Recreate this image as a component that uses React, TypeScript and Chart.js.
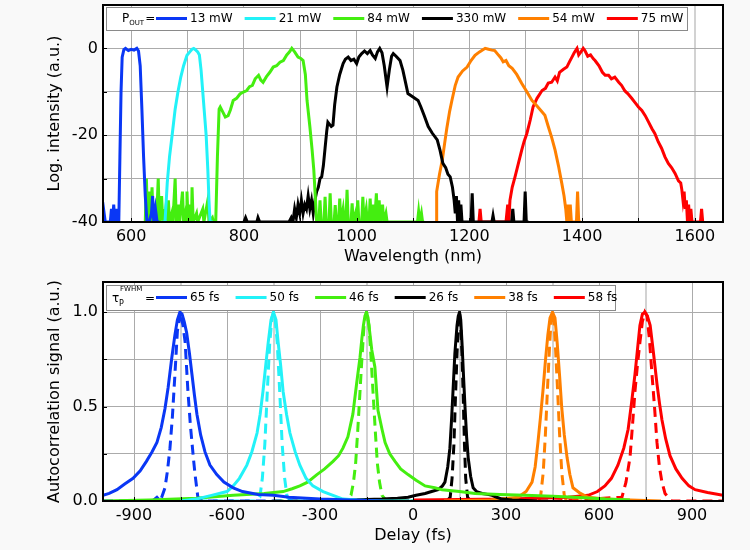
import React, { useEffect, useRef } from 'react';
import { Chart, registerables } from 'chart.js';
Chart.register(...registerables);

const FONT = "'DejaVu Sans', 'Verdana', sans-serif";

// ---------- Top panel: spectra (wavelength nm, log intensity dB) ----------
const specLabels = ['13 mW', '21 mW', '84 mW', '330 mW', '54 mW', '75 mW'];
const specColors = ['#0a37f5', '#22f2f8', '#44ee10', '#000000', '#ff8000', '#ff0000'];

const wl13 = [550, 552, 554, 556, 560, 563, 565, 567, 569, 571, 573, 575, 578, 580, 582, 584, 587, 590, 595, 600, 605, 610, 613, 616, 619, 622, 625, 628, 632, 636, 638, 640, 643, 646, 650];
const db13 = [-40, -38, -40, -40, -40, -40, -37, -40, -36, -40, -37, -40, -40, -25, -10, -2, -0.3, 0, -0.5, -0.2, -0.4, 0, -0.6, -4, -14, -25, -34, -40, -40, -38, -34, -40, -37, -40, -40];

const wl21 = [655, 660, 664, 668, 673, 678, 683, 688, 693, 699, 704, 708, 711, 714, 718, 721, 724, 727, 730, 733, 736, 738, 740, 745];
const db21 = [-40, -40, -31, -25, -19.6, -14, -10, -6.6, -4, -1.6, -0.8, -0.2, 0, -0.3, -0.8, -1.5, -5, -10, -15, -20, -28, -35, -40, -40];

const wl84 = [625, 627, 629, 632, 634, 637, 639, 643, 645, 648, 650, 654, 656, 657, 659, 663, 665, 666, 668, 672, 674, 678, 680, 684, 686, 691, 693, 696, 698, 699, 701, 705, 707, 708, 710, 716, 718, 727, 729, 736, 738, 744, 746, 750, 753, 756, 758, 762, 767, 772, 776, 781, 787, 793, 800, 805, 810, 815, 820, 826, 830, 834, 840, 846, 852, 858, 864, 870, 876, 881, 885, 890, 896, 901, 905, 909, 912, 917, 921, 924, 926, 929, 933, 935, 937, 942, 944, 946, 951, 953, 955, 960, 962, 964, 968, 970, 972, 976, 978, 981, 983, 985, 990, 992, 994, 998, 1000, 1002, 1004, 1009, 1011, 1013, 1017, 1019, 1022, 1024, 1026, 1030, 1032, 1035, 1037, 1040, 1042, 1046, 1048, 1052, 1054, 1060, 1108, 1110, 1112, 1115, 1117, 1120];
const db84 = [-40, -30, -40, -33, -40, -32, -40, -37, -40, -30, -40, -34, -40, -37, -40, -35, -40, -35, -40, -38, -40, -30, -40, -36, -40, -33, -40, -38, -40, -33, -40, -36, -40, -32, -40, -38, -40, -37, -40, -35, -40, -39, -40, -40, -25, -14, -13.5, -14.5, -15.8, -15.5, -14.2, -12, -11.5, -10.5, -10, -9.7, -8.8, -8.5, -7, -6.2, -7.3, -7.8, -6.5, -5.5, -4.3, -4, -3.2, -2.8, -1.5, -0.8, 0, -0.8, -2, -2.3, -2.8, -6, -12, -18, -23.4, -28, -32.6, -40, -40, -35, -40, -40, -34.2, -40, -40, -33.4, -40, -40, -36.1, -40, -40, -34.6, -40, -37, -40, -40, -32.6, -40, -40, -35.7, -40, -38, -40, -35, -40, -40, -34.2, -40, -37, -40, -40, -34.6, -40, -36, -40, -33.4, -40, -35, -40, -36, -40, -38, -40, -40, -40, -37.6, -40, -38, -40, -40];

const wl330 = [800, 803, 806, 823, 825, 828, 880, 884, 887, 890, 893, 896, 899, 902, 905, 908, 911, 914, 917, 920, 923, 926, 929, 932, 935, 938, 941, 944, 947, 949, 952, 955, 958, 961, 965, 970, 976, 980, 985, 990, 995, 1000, 1004, 1009, 1014, 1019, 1024, 1028, 1033, 1037, 1041, 1045, 1049, 1054, 1058, 1062, 1065, 1070, 1077, 1082, 1087, 1091, 1100, 1109, 1114, 1120, 1127, 1134, 1143, 1148, 1153, 1158, 1162, 1166, 1170, 1173, 1175, 1177, 1179, 1181, 1183, 1185, 1187, 1189, 1203, 1205, 1207, 1240, 1242, 1244, 1275, 1277, 1279, 1297, 1299, 1301, 1305];
const db330 = [-40, -39, -40, -40, -39, -40, -40, -39, -40, -37, -39, -36, -38, -35, -38, -36, -37, -34, -37, -35, -38, -35, -33, -32, -30, -29.6, -27, -23, -19, -17, -17.5, -18, -17.7, -13, -8.9, -6, -3.5, -2.5, -2, -2.8, -2.5, -3.5, -2, -1.2, -0.6, -1.2, -0.5, -1.5, -2.3, -0.8, 0, -1, -4, -8.9, -5, -1.8, -1.2, -1.8, -2.8, -5, -8, -10.4, -11.2, -12, -13.5, -15.5, -18, -19.5, -21.1, -23.5, -26.5, -27.5, -29, -29.6, -32, -35, -38, -34, -40, -35, -40, -36, -40, -40, -40, -33.4, -40, -40, -38.5, -40, -40, -37, -40, -40, -33, -40, -40];

const wl54 = [1141, 1142, 1147, 1152, 1156, 1160, 1165, 1169, 1175, 1180, 1188, 1196, 1203, 1210, 1218, 1224, 1228, 1234, 1240, 1245, 1252, 1256, 1260, 1265, 1270, 1276, 1284, 1293, 1302, 1311, 1320, 1328, 1334, 1340, 1346, 1352, 1358, 1364, 1368, 1371, 1373, 1375, 1377, 1379, 1381, 1390, 1392, 1394, 1398];
const db54 = [-40, -33, -29, -25.7, -22, -18.4, -14.5, -12, -8.5, -6.6, -5.2, -4.3, -2.8, -1.6, -0.8, -0.3, 0, -0.2, -0.4, -0.5, -1.6, -2.2, -3.1, -2.8, -4, -4.6, -6, -8.1, -10, -12, -13.3, -14.5, -15.4, -18, -20.5, -23.4, -27, -31.1, -34, -37, -40, -36, -40, -36, -40, -40, -33, -40, -40];

const wl75 = [1217, 1219, 1221, 1265, 1268, 1270, 1272, 1276, 1281, 1287, 1293, 1297, 1302, 1308, 1313, 1320, 1329, 1335, 1340, 1346, 1352, 1356, 1360, 1367, 1373, 1378, 1382, 1386, 1391, 1394, 1398, 1402, 1405, 1410, 1415, 1420, 1423, 1430, 1436, 1441, 1447, 1452, 1458, 1465, 1470, 1476, 1481, 1488, 1494, 1500, 1506, 1512, 1518, 1524, 1529, 1535, 1541, 1547, 1553, 1559, 1565, 1571, 1575, 1577, 1579, 1581, 1583, 1585, 1587, 1589, 1591, 1593, 1595, 1600, 1610, 1612, 1614];
const db75 = [-40, -37, -40, -40, -36, -40, -35, -32, -29.6, -26.5, -23.4, -21.5, -19.6, -16.5, -13.5, -11.5, -9.7, -9.2, -8, -7.8, -6.6, -7.5, -5.5, -4.8, -4.3, -3, -2, -1, 0, -1.5, -0.8, 0, -0.5, -1.8, -1.5, -2.4, -2.8, -4, -5.5, -6.2, -6.2, -7, -6.6, -7.8, -8.5, -9.8, -10.4, -11.5, -12.5, -13.5, -14.3, -15.5, -17, -18.5, -19.6, -21.5, -23, -25, -26.5, -27.5, -28.8, -30.5, -31, -32.6, -35, -33, -37, -35, -40, -36, -40, -37, -40, -40, -40, -37, -40];

const specX = [wl13, wl21, wl84, wl330, wl54, wl75];
const specY = [db13, db21, db84, db330, db54, db75];

const wlTicks = [600, 700, 800, 900, 1000, 1100, 1200, 1300, 1400, 1500, 1600];
const dbTicks = [-40, -30, -20, -10, 0];

// ---------- Bottom panel: autocorrelation (delay fs, signal a.u.) ----------
const acLabels = ['65 fs', '50 fs', '46 fs', '26 fs', '38 fs', '58 fs'];

const t65 = [-1000, -980, -955, -930, -903, -880, -860, -842, -826, -812, -800, -790, -778, -768, -760, -752, -745, -738, -730, -721, -713, -705, -697, -685, -671, -655, -633, -610, -580, -550, -500, -450, -400, -300, -200, -100];
const s65 = [0.03, 0.04, 0.06, 0.09, 0.12, 0.16, 0.21, 0.26, 0.31, 0.39, 0.49, 0.6, 0.76, 0.88, 0.96, 1.0, 0.99, 0.95, 0.89, 0.78, 0.67, 0.56, 0.46, 0.35, 0.26, 0.19, 0.14, 0.1, 0.07, 0.05, 0.035, 0.03, 0.02, 0.01, 0.005, 0];
const t65tl = [-1000, -840, -826, -815, -800, -792, -784, -776, -768, -760, -750, -742, -735, -726, -718, -713, -708, -703, -694, -680, -350];
const s65tl = [0, 0, 0.02, 0, 0.07, 0.16, 0.28, 0.45, 0.67, 0.9, 1.0, 0.93, 0.84, 0.58, 0.4, 0.31, 0.22, 0.14, 0.02, 0, 0];

const t50 = [-750, -700, -650, -600, -580, -560, -536, -520, -503, -493, -484, -475, -467, -458, -450, -442, -435, -427, -419, -408, -397, -380, -365, -345, -323, -290, -258, -226, -180, -100, 0];
const s50 = [0, 0.01, 0.03, 0.05, 0.08, 0.12, 0.19, 0.26, 0.36, 0.46, 0.58, 0.72, 0.84, 0.96, 1.0, 0.96, 0.84, 0.72, 0.58, 0.46, 0.36, 0.26, 0.19, 0.12, 0.08, 0.05, 0.03, 0.01, 0.005, 0, 0];
const t50tl = [-800, -510, -494, -486, -478, -470, -462, -455, -450, -445, -438, -430, -422, -414, -406, -390, -100];
const s50tl = [0, 0, 0.02, 0.12, 0.3, 0.58, 0.84, 0.97, 1.0, 0.97, 0.84, 0.58, 0.3, 0.12, 0.02, 0, 0];

const t46 = [-1000, -850, -700, -580, -480, -419, -390, -365, -340, -310, -285, -258, -240, -226, -210, -194, -182, -171, -165, -160, -155, -150, -145, -140, -133, -123, -113, -100, -90, -75, -58, -40, -16, 10, 39, 70, 94, 150, 200, 280, 361, 450, 523, 620, 700];
const s46 = [0, 0.005, 0.015, 0.03, 0.04, 0.05, 0.065, 0.08, 0.1, 0.14, 0.17, 0.21, 0.24, 0.28, 0.34, 0.46, 0.62, 0.76, 0.86, 0.93, 0.98, 1.0, 0.97, 0.9, 0.8, 0.71, 0.48, 0.38, 0.31, 0.25, 0.21, 0.17, 0.14, 0.11, 0.08, 0.07, 0.06, 0.05, 0.04, 0.035, 0.03, 0.025, 0.02, 0.01, 0.005];
const t46tl = [-450, -215, -200, -192, -185, -178, -172, -165, -158, -150, -142, -135, -128, -122, -115, -108, -100, -85, 150];
const s46tl = [0, 0, 0.03, 0.1, 0.2, 0.38, 0.55, 0.75, 0.93, 1.0, 0.93, 0.75, 0.55, 0.38, 0.2, 0.1, 0.03, 0, 0];

const t26 = [-300, -200, -100, -50, -16, 10, 39, 60, 81, 95, 103, 112, 119, 124, 129, 135, 142, 146, 150, 154, 158, 163, 168, 173, 178, 186, 194, 205, 223, 240, 255, 270, 287, 320, 400];
const s26 = [0, 0.005, 0.01, 0.015, 0.02, 0.03, 0.04, 0.05, 0.06, 0.08, 0.1, 0.18, 0.28, 0.42, 0.58, 0.78, 0.93, 0.98, 1.0, 0.96, 0.84, 0.66, 0.49, 0.34, 0.23, 0.13, 0.07, 0.05, 0.04, 0.035, 0.03, 0.02, 0.01, 0.005, 0];
const t26tl = [-200, 110, 120, 126, 132, 137, 142, 146, 150, 154, 158, 162, 166, 170, 176, 185, 450];
const s26tl = [0, 0, 0.02, 0.12, 0.3, 0.55, 0.78, 0.93, 1.0, 0.93, 0.78, 0.55, 0.3, 0.12, 0.02, 0, 0];

const t38 = [100, 250, 339, 365, 384, 394, 403, 411, 419, 427, 435, 442, 450, 458, 465, 473, 480, 488, 497, 506, 516, 540, 565, 620, 700, 800];
const s38 = [0, 0.005, 0.02, 0.05, 0.1, 0.18, 0.31, 0.44, 0.58, 0.74, 0.88, 0.97, 1.0, 0.97, 0.84, 0.66, 0.49, 0.35, 0.23, 0.14, 0.07, 0.04, 0.02, 0.01, 0.005, 0];
const t38tl = [150, 405, 412, 420, 427, 434, 440, 445, 450, 455, 460, 466, 473, 480, 488, 495, 750];
const s38tl = [0, 0, 0.03, 0.15, 0.35, 0.6, 0.8, 0.95, 1.0, 0.95, 0.8, 0.6, 0.35, 0.15, 0.03, 0, 0];

const t58 = [0, 150, 300, 400, 500, 565, 595, 619, 640, 661, 680, 694, 705, 716, 724, 732, 740, 748, 756, 765, 776, 787, 795, 803, 815, 829, 848, 868, 890, 910, 950, 1000];
const s58 = [0.005, 0.008, 0.01, 0.015, 0.02, 0.03, 0.05, 0.08, 0.12, 0.19, 0.28, 0.38, 0.52, 0.67, 0.8, 0.93, 0.99, 1.0, 0.98, 0.93, 0.78, 0.62, 0.52, 0.43, 0.33, 0.24, 0.17, 0.12, 0.08, 0.06, 0.045, 0.03];
const t58tl = [450, 674, 687, 700, 708, 716, 724, 732, 740, 748, 755, 763, 771, 779, 787, 795, 803, 813, 823, 835, 1000];
const s58tl = [0, 0.02, 0.1, 0.23, 0.4, 0.58, 0.72, 0.84, 0.95, 1.0, 0.98, 0.85, 0.67, 0.5, 0.31, 0.18, 0.1, 0.04, 0.02, 0, 0];

const acX = [t65, t50, t46, t26, t38, t58];
const acY = [s65, s50, s46, s26, s38, s58];
const tlX = [t65tl, t50tl, t46tl, t26tl, t38tl, t58tl];
const tlY = [s65tl, s50tl, s46tl, s26tl, s38tl, s58tl];

const delayTicks = [-900, -750, -600, -450, -300, -150, 0, 150, 300, 450, 600, 750, 900];
const sigTicks = [0, 0.25, 0.5, 0.75, 1.0];

// ---------- helpers ----------
const toXY = (xs: number[], ys: number[]) => xs.map((x, i) => ({ x, y: ys[i] }));

type LegendSpec = {
  box: [number, number, number, number];
  kind: 'pout' | 'tau';
  labels: string[];
  gap: number;
};

function panelPlugin(xTitle: string, yTitle: string, legend: LegendSpec) {
  return {
    id: 'panel',
    beforeDraw(chart: any) {
      const { ctx, chartArea: a } = chart;
      ctx.save();
      ctx.fillStyle = '#ffffff';
      ctx.fillRect(a.left, a.top, a.right - a.left, a.bottom - a.top);
      ctx.restore();
    },
    afterDatasetsDraw(chart: any) {
      const { ctx, chartArea: a } = chart;
      ctx.save();
      // inward ticks
      ctx.strokeStyle = '#000';
      ctx.lineWidth = 1;
      const xs = chart.scales.x;
      const ys = chart.scales.y;
      xs.ticks.forEach((t: any) => {
        const px = Math.round(xs.getPixelForValue(t.value)) + 0.5;
        ctx.beginPath();
        ctx.moveTo(px, a.bottom);
        ctx.lineTo(px, a.bottom - 4);
        ctx.stroke();
      });
      ys.ticks.forEach((t: any) => {
        const py = Math.round(ys.getPixelForValue(t.value)) + 0.5;
        ctx.beginPath();
        ctx.moveTo(a.left, py);
        ctx.lineTo(a.left + 4, py);
        ctx.stroke();
      });
      // frame
      ctx.lineWidth = 2;
      ctx.strokeRect(a.left, a.top, a.right - a.left, a.bottom - a.top);
      // axis titles
      ctx.fillStyle = '#000';
      ctx.font = `16px ${FONT}`;
      ctx.textAlign = 'center';
      ctx.textBaseline = 'middle';
      ctx.fillText(xTitle, (a.left + a.right) / 2, a.bottom + 35);
      ctx.save();
      ctx.translate(55, (a.top + a.bottom) / 2);
      ctx.rotate(-Math.PI / 2);
      ctx.fillText(yTitle, 0, 0);
      ctx.restore();
      // legend
      const [bx1, by1, bx2, by2] = legend.box;
      ctx.fillStyle = '#ffffff';
      ctx.fillRect(bx1, by1, bx2 - bx1, by2 - by1);
      ctx.strokeStyle = '#8a8a8a';
      ctx.lineWidth = 1;
      ctx.strokeRect(bx1 + 0.5, by1 + 0.5, bx2 - bx1, by2 - by1);
      const cy = (by1 + by2) / 2;
      ctx.fillStyle = '#000';
      ctx.textAlign = 'left';
      ctx.textBaseline = 'middle';
      if (legend.kind === 'pout') {
        ctx.font = `12px ${FONT}`;
        ctx.fillText('P', 122, cy);
        let x = 122 + ctx.measureText('P').width;
        ctx.font = `7px ${FONT}`;
        ctx.fillText('OUT', x, cy + 5);
        x += ctx.measureText('OUT').width + 1;
        ctx.font = `12px ${FONT}`;
        ctx.fillText('=', x, cy);
      } else {
        ctx.font = `12px ${FONT}`;
        ctx.fillText('τ', 112, cy + 1);
        ctx.font = `8px ${FONT}`;
        ctx.fillText('P', 119, cy + 6);
        ctx.font = `7px ${FONT}`;
        ctx.fillText('FWHM', 120, cy - 8);
        ctx.font = `12px ${FONT}`;
        ctx.fillText('=', 145, cy + 1);
      }
      let x = 156;
      ctx.font = `12px ${FONT}`;
      legend.labels.forEach((lab, i) => {
        ctx.strokeStyle = specColors[i];
        ctx.lineWidth = 3;
        ctx.beginPath();
        ctx.moveTo(x, cy);
        ctx.lineTo(x + 31, cy);
        ctx.stroke();
        ctx.fillStyle = '#000';
        ctx.fillText(lab, x + 34, cy);
        x += 34 + ctx.measureText(lab).width + legend.gap;
      });
      ctx.restore();
    },
  };
}

function baseOptions(o: {
  xMin: number; xMax: number; yMin: number; yMax: number;
  xTicks: number[]; yTicks: number[];
  xLabel: (v: number) => string; yLabel: (v: number) => string;
  xGridColor: (v: number) => string; xGridWidth: (v: number) => number;
  padTop: number; xHeight: number;
}) {
  return {
    responsive: false,
    maintainAspectRatio: false,
    animation: false,
    events: [],
    layout: { padding: { left: 0, right: 27, top: o.padTop, bottom: 0 } },
    plugins: { legend: { display: false }, tooltip: { enabled: false } },
    elements: { point: { radius: 0 }, line: { tension: 0 } },
    scales: {
      x: {
        type: 'linear',
        min: o.xMin,
        max: o.xMax,
        afterBuildTicks: (s: any) => { s.ticks = o.xTicks.map((v) => ({ value: v })); },
        afterFit: (s: any) => {
          s.height = o.xHeight;
          s.paddingLeft = 0; s.paddingRight = 0; s.paddingTop = 0; s.paddingBottom = 0;
        },
        ticks: {
          autoSkip: false,
          maxRotation: 0,
          padding: 5,
          color: '#000',
          font: { family: FONT, size: 16 },
          callback: (v: any) => o.xLabel(Number(v)),
        },
        grid: {
          drawTicks: false,
          color: (c: any) => o.xGridColor(c.tick ? c.tick.value : 0),
          lineWidth: (c: any) => o.xGridWidth(c.tick ? c.tick.value : 0),
        },
        border: { display: false },
      },
      y: {
        type: 'linear',
        min: o.yMin,
        max: o.yMax,
        afterBuildTicks: (s: any) => { s.ticks = o.yTicks.map((v) => ({ value: v })); },
        afterFit: (s: any) => {
          s.width = 103;
          s.paddingLeft = 0; s.paddingRight = 0; s.paddingTop = 0; s.paddingBottom = 0;
        },
        ticks: {
          autoSkip: false,
          padding: 5,
          color: '#000',
          font: { family: FONT, size: 16 },
          callback: (v: any) => o.yLabel(Number(v)),
        },
        grid: { drawTicks: false, color: '#ababab', lineWidth: 1 },
        border: { display: false },
      },
    },
  } as any;
}

export default function App() {
  const topRef = useRef<HTMLCanvasElement>(null);
  const botRef = useRef<HTMLCanvasElement>(null);

  useEffect(() => {
    const topDatasets = specLabels.map((lab, i) => ({
      label: lab,
      data: toXY(specX[i], specY[i]),
      borderColor: specColors[i],
      borderWidth: 3,
      pointRadius: 0,
      fill: false,
      showLine: true,
    }));
    const top = new Chart(topRef.current as HTMLCanvasElement, {
      type: 'scatter',
      data: { datasets: topDatasets },
      options: baseOptions({
        xMin: 550, xMax: 1650, yMin: -40, yMax: 10,
        xTicks: wlTicks, yTicks: dbTicks,
        xLabel: (v) => (v % 200 === 0 ? String(v) : ''),
        yLabel: (v) => (v % 20 === 0 && v <= 0 ? String(v) : ''),
        xGridColor: (v) => (v === 1600 ? '#d2d2d2' : '#ababab'),
        xGridWidth: (v) => (v === 1600 ? 2 : 1),
        padTop: 5, xHeight: 53,
      }),
      plugins: [panelPlugin('Wavelength (nm)', 'Log. intensity (a.u.)', {
        box: [106, 7, 687, 30], kind: 'pout', labels: specLabels, gap: 12,
      })],
    } as any);

    const solid = acLabels.map((lab, i) => ({
      label: lab,
      data: toXY(acX[i], acY[i]),
      borderColor: specColors[i],
      borderWidth: 3,
      pointRadius: 0,
      fill: false,
      showLine: true,
    }));
    const dashed = acLabels.map((lab, i) => ({
      label: lab + ' TL',
      data: toXY(tlX[i], tlY[i]),
      borderColor: specColors[i],
      borderWidth: 3,
      borderDash: [10, 6],
      pointRadius: 0,
      fill: false,
      showLine: true,
    }));
    const bot = new Chart(botRef.current as HTMLCanvasElement, {
      type: 'scatter',
      data: { datasets: [...solid, ...dashed] },
      options: baseOptions({
        xMin: -1000, xMax: 1000, yMin: 0, yMax: 1.16,
        xTicks: delayTicks, yTicks: sigTicks,
        xLabel: (v) => (v % 300 === 0 ? String(v) : ''),
        yLabel: (v) => (Math.abs((v * 2) - Math.round(v * 2)) < 1e-6 ? v.toFixed(1) : ''),
        xGridColor: (v) => (Math.abs(v) % 300 === 150 ? '#d2d2d2' : '#ababab'),
        xGridWidth: (v) => (Math.abs(v) % 300 === 150 ? 2 : 1),
        padTop: 7, xHeight: 49,
      }),
      plugins: [panelPlugin('Delay (fs)', 'Autocorrelation signal (a.u.)', {
        box: [106, 10, 615, 35], kind: 'tau', labels: acLabels, gap: 16,
      })],
    } as any);

    return () => {
      top.destroy();
      bot.destroy();
    };
  }, []);

  return (
    <div style={{ position: 'absolute', left: 0, top: 0, width: 750, height: 550, background: '#f9f9f9' }}>
      <canvas ref={topRef} width={750} height={275} style={{ display: 'block', width: 750, height: 275 }} />
      <canvas ref={botRef} width={750} height={275} style={{ display: 'block', width: 750, height: 275 }} />
    </div>
  );
}
